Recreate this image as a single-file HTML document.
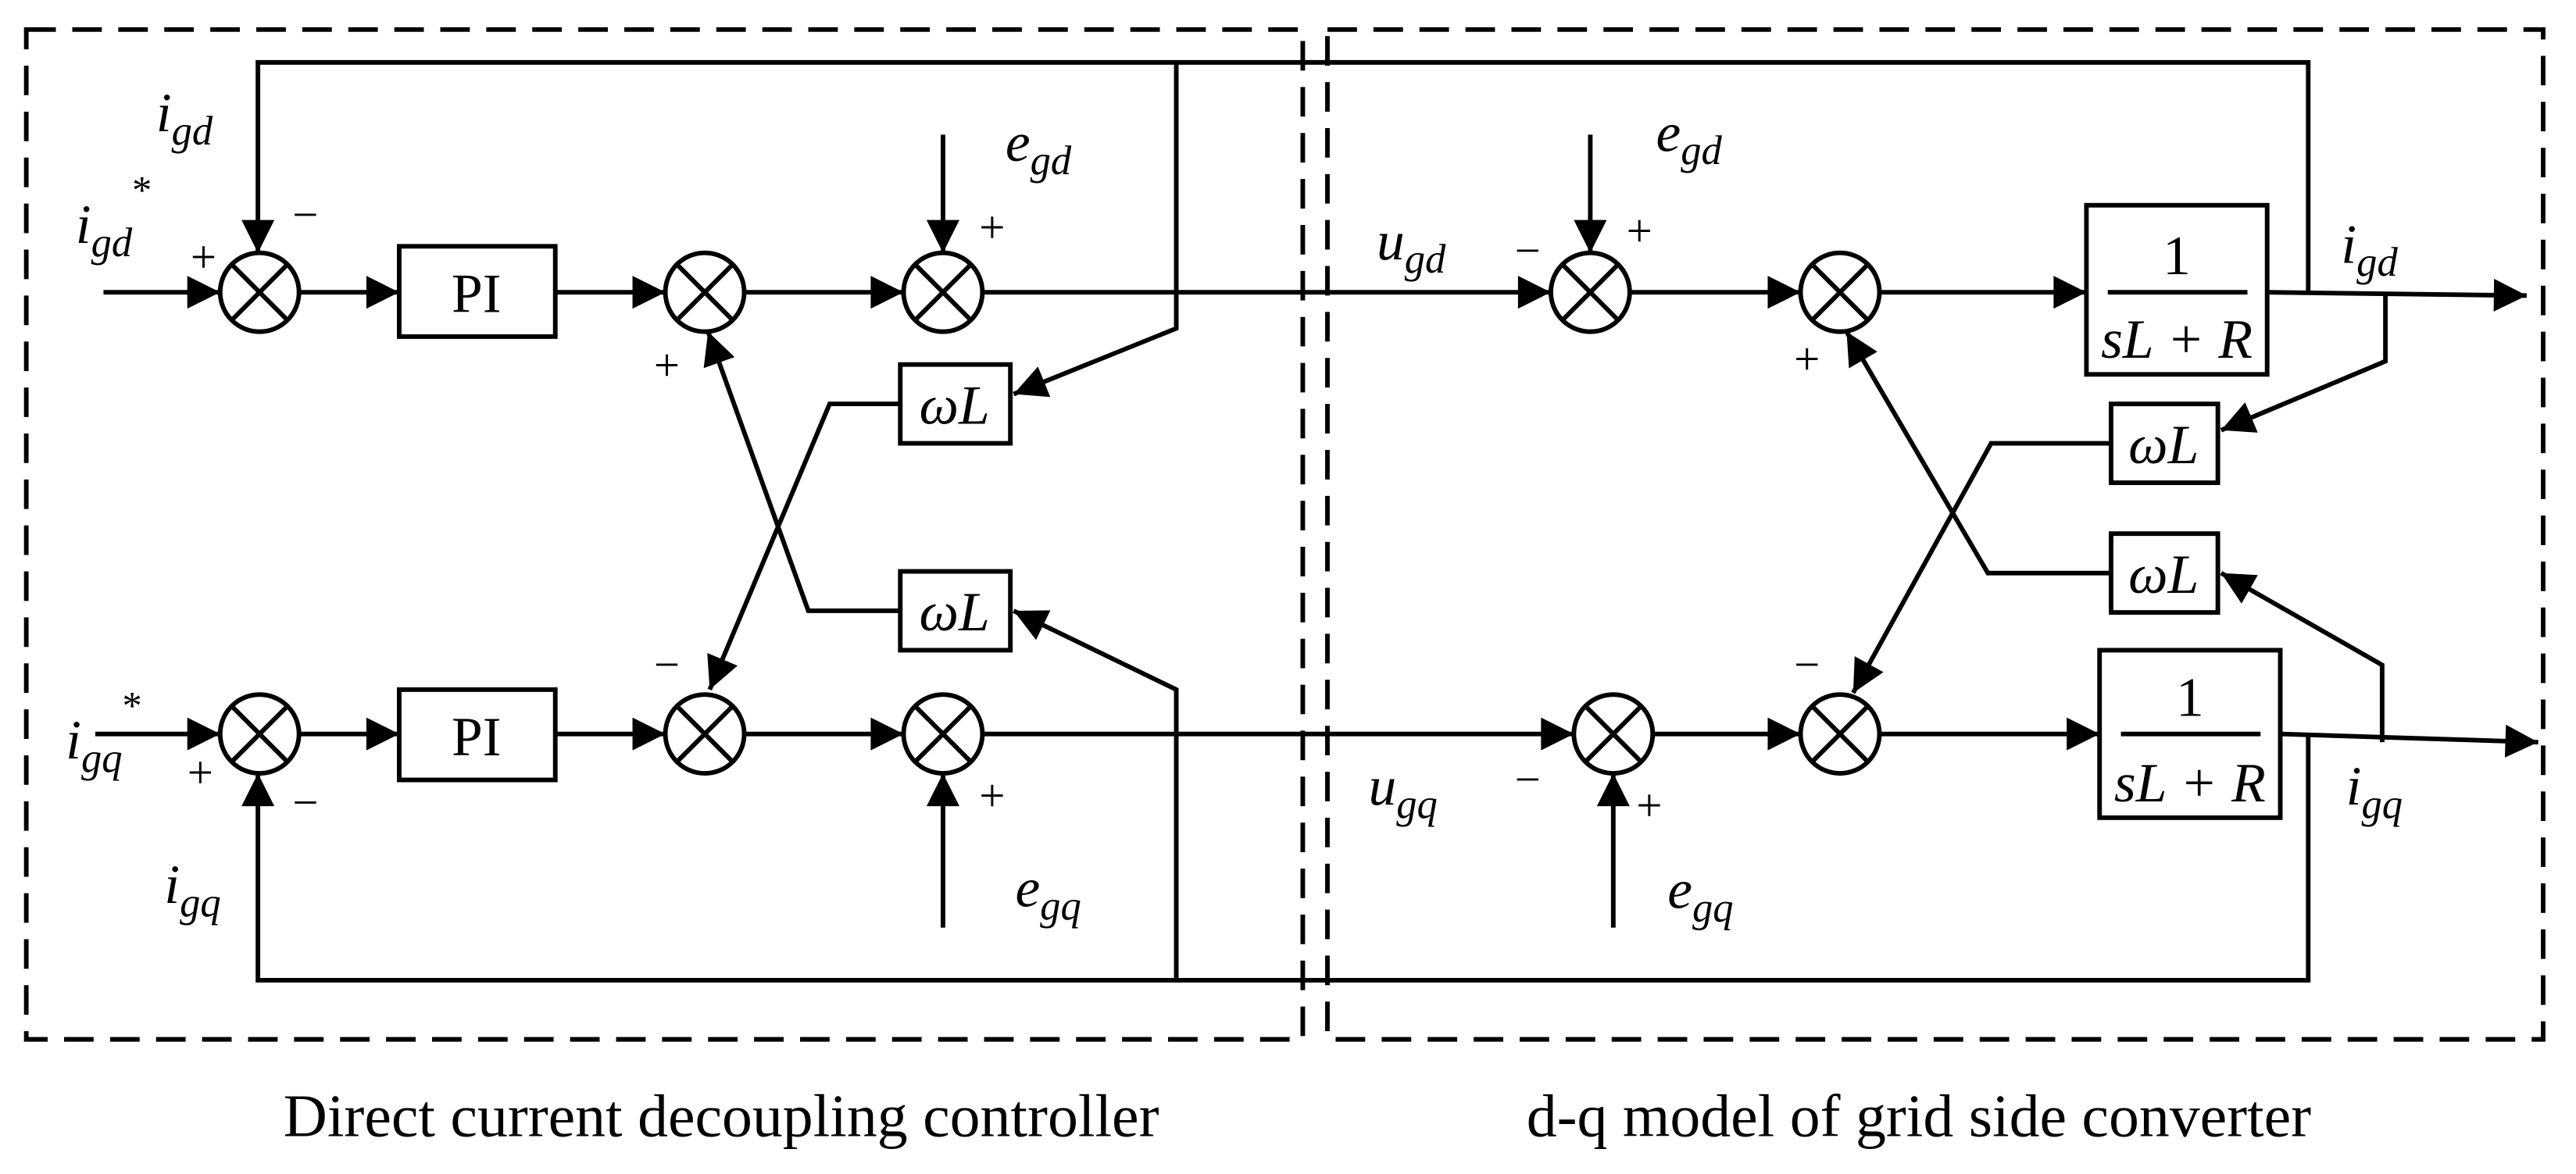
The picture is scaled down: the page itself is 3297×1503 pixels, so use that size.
<!DOCTYPE html>
<html><head><meta charset="utf-8"><style>
html,body{margin:0;padding:0;background:#fff;}
svg{display:block;}
text{font-family:"Liberation Serif",serif;fill:#000;}
.i{font-style:italic;}
</style></head><body>
<svg width="3297" height="1503" viewBox="0 0 1568 715" preserveAspectRatio="none" xmlns="http://www.w3.org/2000/svg">
<defs>
<marker id="a" viewBox="0 0 10 10" refX="10" refY="5" markerUnits="userSpaceOnUse" markerWidth="26" markerHeight="20" orient="auto">
<path d="M0,0 L10,5 L0,10 z" fill="#000"/></marker>
</defs>
<g fill="none" stroke="#000" stroke-width="2.8" stroke-dasharray="18 10">
<rect x="16" y="18" width="777" height="615"/>
<rect x="808" y="18" width="740" height="615"/>
</g>
<g fill="none" stroke="#000" stroke-width="2.8">
<circle cx="158" cy="178" r="24"/><path d="M141,161 L175,195 M175,161 L141,195"/>
<circle cx="429" cy="178" r="24"/><path d="M412,161 L446,195 M446,161 L412,195"/>
<circle cx="574" cy="178" r="24"/><path d="M557,161 L591,195 M591,161 L557,195"/>
<circle cx="968" cy="178" r="24"/><path d="M951,161 L985,195 M985,161 L951,195"/>
<circle cx="1120" cy="178" r="24"/><path d="M1103,161 L1137,195 M1137,161 L1103,195"/>
<circle cx="158" cy="447" r="24"/><path d="M141,430 L175,464 M175,430 L141,464"/>
<circle cx="429" cy="447" r="24"/><path d="M412,430 L446,464 M446,430 L412,464"/>
<circle cx="574" cy="447" r="24"/><path d="M557,430 L591,464 M591,430 L557,464"/>
<circle cx="982" cy="447" r="24"/><path d="M965,430 L999,464 M999,430 L965,464"/>
<circle cx="1120" cy="447" r="24"/><path d="M1103,430 L1137,464 M1137,430 L1103,464"/>
<rect x="243" y="150" width="95" height="55"/>
<rect x="243" y="420" width="95" height="55"/>
<rect x="548" y="222" width="67" height="48"/>
<rect x="548" y="348" width="67" height="48"/>
<rect x="1285" y="246" width="65" height="48"/>
<rect x="1285" y="325" width="65" height="48"/>
<rect x="1270" y="125" width="110" height="103"/>
<rect x="1278" y="396" width="110" height="102"/>
<path d="M1283,178 H1368 M1291,447 H1376"/>
</g>
<g fill="none" stroke="#000" stroke-width="2.8" marker-end="url(#a)">
<path d="M63,178 H134"/>
<path d="M182,178 H243"/>
<path d="M338,178 H405"/>
<path d="M453,178 H550"/>
<path d="M598,178 H944"/>
<path d="M992,178 H1096"/>
<path d="M1144,178 H1270"/>
<path d="M1380,178 L1538,180"/>
<path d="M58,447 H134"/>
<path d="M182,447 H243"/>
<path d="M338,447 H405"/>
<path d="M453,447 H550"/>
<path d="M598,447 H958"/>
<path d="M1006,447 H1096"/>
<path d="M1144,447 H1278"/>
<path d="M1388,447 L1545,452"/>
<path d="M1405,178 V38 H157 V154"/>
<path d="M1405,447 V597 H157 V471"/>
<path d="M716,38 V200 L617,240"/>
<path d="M716,597 V420 L617,372"/>
<path d="M574,82 V154"/>
<path d="M574,565 V471"/>
<path d="M968,82 V154"/>
<path d="M982,565 V471"/>
<path d="M548,246 H505 L432,420"/>
<path d="M548,372 H492 L431,202"/>
<path d="M1452,178 V220 L1352,262"/>
<path d="M1450,452 V405 L1352,349"/>
<path d="M1285,270 H1212 L1128,422"/>
<path d="M1285,349 H1210 L1124,202"/>
</g>
<g font-size="34">
<text x="290" y="190" text-anchor="middle">PI</text>
<text x="290" y="460" text-anchor="middle">PI</text>
<text class="i" x="581" y="258" text-anchor="middle">ωL</text>
<text class="i" x="581" y="384" text-anchor="middle">ωL</text>
<text class="i" x="1317" y="282" text-anchor="middle">ωL</text>
<text class="i" x="1317" y="361" text-anchor="middle">ωL</text>
<text x="1325" y="167" text-anchor="middle">1</text>
<text class="i" x="1325" y="218" text-anchor="middle">sL + R</text>
<text x="1333" y="436" text-anchor="middle">1</text>
<text class="i" x="1333" y="488" text-anchor="middle">sL + R</text>

<text class="i" x="95" y="80">i<tspan font-size="25" dy="8">gd</tspan></text>
<text class="i" x="46" y="148">i<tspan font-size="25" dy="8">gd</tspan><tspan font-size="24" dy="-32" font-style="normal">*</tspan></text>
<text class="i" x="40" y="462">i<tspan font-size="25" dy="8">gq</tspan><tspan font-size="24" dy="-32" font-style="normal">*</tspan></text>
<text class="i" x="100" y="550">i<tspan font-size="25" dy="8">gq</tspan></text>
<text class="i" x="612" y="98">e<tspan font-size="25" dy="8">gd</tspan></text>
<text class="i" x="618" y="552">e<tspan font-size="25" dy="8">gq</tspan></text>
<text class="i" x="1008" y="92">e<tspan font-size="25" dy="8">gd</tspan></text>
<text class="i" x="1015" y="553">e<tspan font-size="25" dy="8">gq</tspan></text>
<text class="i" x="838" y="158">u<tspan font-size="25" dy="8">gd</tspan></text>
<text class="i" x="833" y="490">u<tspan font-size="25" dy="8">gq</tspan></text>
<text class="i" x="1425" y="160">i<tspan font-size="25" dy="8">gd</tspan></text>
<text class="i" x="1428" y="490">i<tspan font-size="25" dy="8">gq</tspan></text>
</g>
<g font-size="28">
<text x="116" y="166">+</text><text x="178" y="140">−</text>
<text x="596" y="148">+</text>
<text x="398" y="232">+</text>
<text x="398" y="414">−</text>
<text x="114" y="480">+</text><text x="178" y="498">−</text>
<text x="596" y="494">+</text>
<text x="922" y="162">−</text><text x="990" y="150">+</text>
<text x="1092" y="228">+</text>
<text x="1092" y="414">−</text>
<text x="922" y="484">−</text><text x="996" y="500">+</text>
</g>
<g font-size="37">
<text x="439" y="692" text-anchor="middle">Direct current decoupling controller</text>
<text x="1168" y="692" text-anchor="middle">d-q model of grid side converter</text>
</g>
</svg>
</body></html>
